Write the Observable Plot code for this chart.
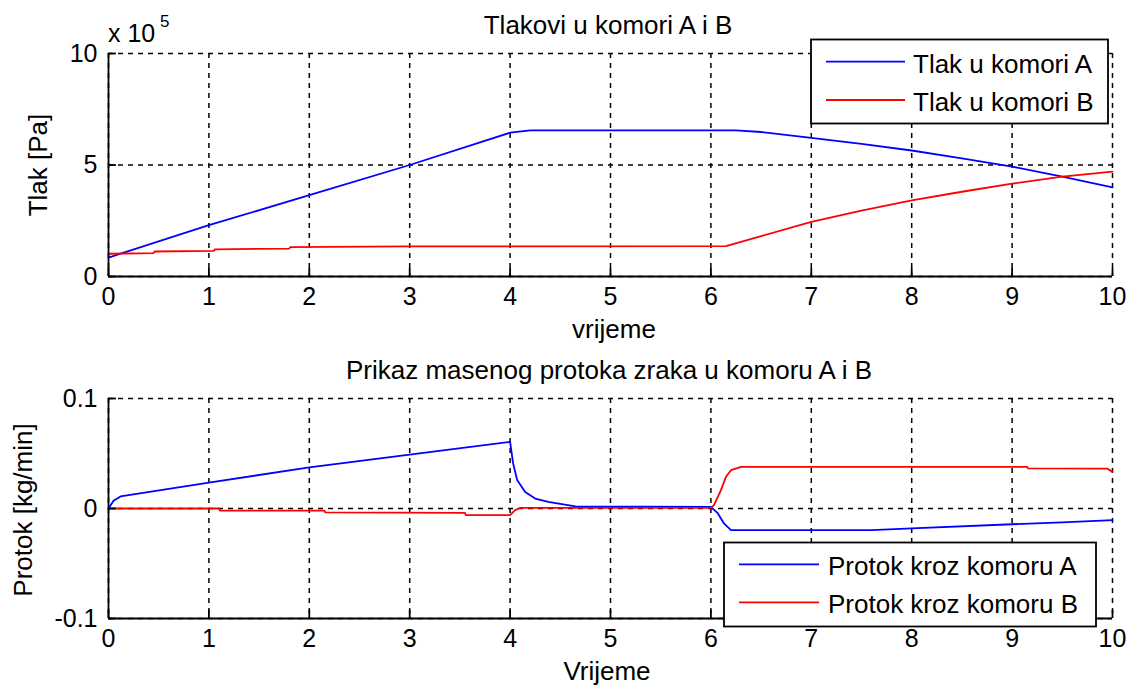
<!DOCTYPE html>
<html><head><meta charset="utf-8">
<script src="https://cdn.jsdelivr.net/npm/d3@7"></script>
<script src="https://cdn.jsdelivr.net/npm/@observablehq/plot@0.6"></script>
<style>
body{margin:0;background:#fff;}
#fig{position:relative;width:1131px;height:690px;font-family:"Liberation Sans",Arial,Helvetica,sans-serif;}
#fig > svg{position:absolute;left:0;}
</style></head><body><div id="fig"></div>
<script>
// ---------- data ----------
const xTicks = [0,1,2,3,4,5,6,7,8,9,10];
const xDomain = [0,10];

// Top plot: pressure (x 10^5 Pa)
const tlakTicks = [0,5,10];
const tlakDomain = [0,10];
const tlakA_t = [0,1,2,3,4,4.2,6.25,6.5,7,7.5,8,8.5,9,9.5,10];
const tlakA   = [0.85,2.3,3.65,5.0,6.45,6.55,6.55,6.48,6.22,5.95,5.65,5.3,4.93,4.48,4.0];
const tlakB_t = [0,0.45,0.46,1.05,1.06,1.8,1.81,3,6.15,6.5,7,7.5,8,8.5,9,9.5,10];
const tlakB   = [1.02,1.05,1.12,1.15,1.22,1.25,1.32,1.35,1.36,1.81,2.45,2.95,3.41,3.8,4.16,4.48,4.7];

// Bottom plot: mass flow (kg/min)
const protokTicks = [-0.1,0,0.1];
const protokDomain = [-0.1,0.1];
const protokA_t = [0,0.05,0.12,1,2,3,4,4.03,4.07,4.15,4.25,4.38,4.65,6,6.07,6.13,6.2,7.6,8,9,9.5,10];
const protokA   = [0,0.007,0.011,0.0236,0.0373,0.049,0.0606,0.041,0.026,0.015,0.009,0.006,0.002,0.0015,-0.0045,-0.0136,-0.0197,-0.0197,-0.018,-0.0143,-0.0127,-0.0106];
const protokB_t = [0,1.1,1.11,2.15,2.16,3.55,3.56,4,4.05,4.1,6,6.03,6.1,6.15,6.2,6.3,9.15,9.16,9.95,10];
const protokB   = [0,0,-0.002,-0.002,-0.0036,-0.004,-0.006,-0.006,-0.0015,0.0005,0.0005,0.003,0.0167,0.0288,0.0348,0.0378,0.0378,0.0364,0.0362,0.0333];

const colorA = "#0000ff";
const colorB = "#ff0000";

const toRows = (ts, vs) => ts.map((t, i) => ({t, v: vs[i]}));

// ---------- plots ----------
const W = 1131, H = 345, ML = 108, MR = 19;
function makePlot({a, b, yDomain, yTicks, mt, mb}) {
  const fw = W - ML - MR, fh = H - mt - mb;
  const dash = {stroke: "#000", strokeOpacity: 1, strokeWidth: 1.5, strokeDasharray: "5,5"};
  return Plot.plot({
    width: W, height: H,
    marginLeft: ML, marginRight: MR, marginTop: mt, marginBottom: mb,
    style: {fontFamily: '"Liberation Sans",Arial,Helvetica,sans-serif', background: "white", overflow: "visible"},
    x: {domain: xDomain},
    y: {domain: yDomain},
    marks: [
      Plot.gridX(xTicks, dash),
      Plot.gridY(yTicks, dash),
      Plot.line(a, {x: "t", y: "v", stroke: colorA, strokeWidth: 1.8}),
      Plot.line(b, {x: "t", y: "v", stroke: colorB, strokeWidth: 1.8}),
      Plot.ruleX([xDomain[0]], {stroke: "#000", strokeWidth: 1.8}),
      Plot.ruleY([yDomain[0]], {stroke: "#000", strokeWidth: 1.8}),
      Plot.tickX(xTicks, {x: d => d, stroke: "#000", strokeWidth: 1.8, insetTop: fh - 8}),
      Plot.tickY(yTicks, {y: d => d, stroke: "#000", strokeWidth: 1.8, insetRight: fw - 8}),
      Plot.axisX(xTicks, {tickSize: 0, tickPadding: 11, fontSize: 25, fill: "#000", tickFormat: d => String(d), label: null}),
      Plot.axisY(yTicks, {tickSize: 0, tickPadding: 11, fontSize: 25, fill: "#000", tickFormat: d => String(d), label: null})
    ]
  });
}

const fig = document.getElementById("fig");
const p1 = makePlot({a: toRows(tlakA_t, tlakA), b: toRows(tlakB_t, tlakB), yDomain: tlakDomain, yTicks: tlakTicks, mt: 53, mb: 69});
p1.style.top = "0px";
fig.appendChild(p1);
const p2 = makePlot({a: toRows(protokA_t, protokA), b: toRows(protokB_t, protokB), yDomain: protokDomain, yTicks: protokTicks, mt: 53, mb: 72});
p2.style.top = "345px";
fig.appendChild(p2);

// ---------- titles, labels, legends ----------
const ov = d3.select(fig).append("svg")
  .attr("width", W).attr("height", 690)
  .style("top", "0px").style("pointer-events", "none")
  .style("font-family", '"Liberation Sans",Arial,Helvetica,sans-serif');

function txt(s, x, y, size, anchor = "middle", rot = 0) {
  const t = ov.append("text").text(s).attr("font-size", size).attr("text-anchor", anchor).attr("fill", "#000");
  if (rot) t.attr("transform", `translate(${x},${y}) rotate(${rot})`);
  else t.attr("x", x).attr("y", y);
  return t;
}
txt("Tlakovi u komori A i B", 608, 34, 26);
txt("x 10", 108, 42, 25, "start");
txt("5", 160, 27, 17, "start");
txt("Tlak [Pa]", 47, 165, 26, "middle", -90);
txt("vrijeme", 614, 338, 26);
txt("Prikaz masenog protoka zraka u komoru A i B", 609, 379, 26);
txt("Protok [kg/min]", 32, 510, 26, "middle", -90);
txt("Vrijeme", 607, 680, 26);

function legend(x, y, w, h, items, lineX0, lineX1, textX, rowY, baseY) {
  ov.append("rect").attr("x", x).attr("y", y).attr("width", w).attr("height", h)
    .attr("fill", "#fff").attr("stroke", "#000").attr("stroke-width", 1.8);
  items.forEach((it, i) => {
    ov.append("line").attr("x1", lineX0).attr("x2", lineX1).attr("y1", rowY[i]).attr("y2", rowY[i])
      .attr("stroke", it.color).attr("stroke-width", 1.8);
    txt(it.label, textX, baseY[i], 26, "start");
  });
}
legend(811, 39.5, 297, 84, [{label: "Tlak u komori A", color: colorA}, {label: "Tlak u komori B", color: colorB}],
  826, 905, 913, [61.7, 100], [72.5, 110.5]);
legend(724, 542.5, 372, 84, [{label: "Protok kroz komoru A", color: colorA}, {label: "Protok kroz komoru B", color: colorB}],
  739, 819, 828, [564.3, 602.3], [574.5, 612.5]);
</script></body></html>
